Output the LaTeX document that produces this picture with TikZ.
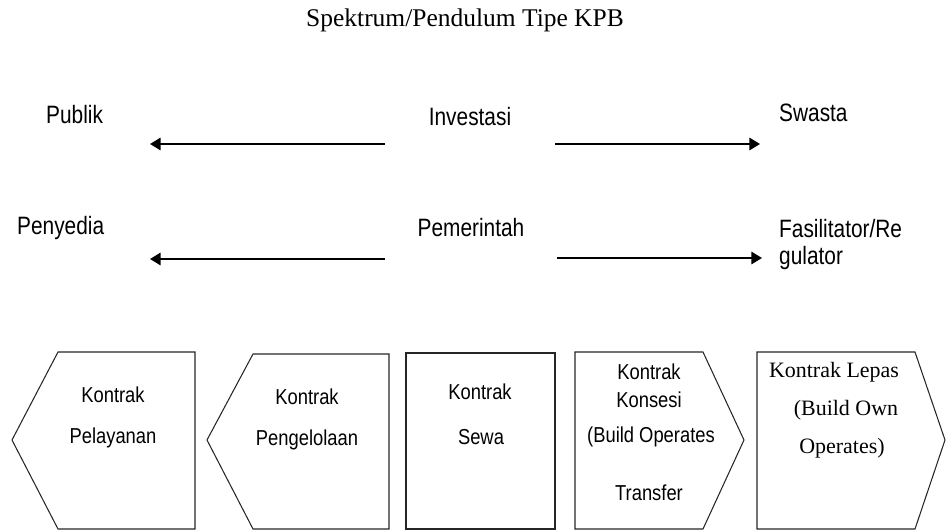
\documentclass[tikz,border=0pt]{standalone}
\usepackage{fontspec}
\setmainfont{Liberation Serif}
\newfontfamily\narrowsans[FakeStretch=0.85]{Liberation Sans}
\newfontfamily\labelsans[FakeStretch=0.83]{Liberation Sans}
\usetikzlibrary{arrows.meta}
\tikzset{
  lbl/.style={font=\labelsans\fontsize{14.3}{16.4}\selectfont},
  boxtxt/.style={font=\narrowsans\fontsize{12.3}{14}\selectfont},
  serifbox/.style={font=\fontsize{12.5}{15}\selectfont},
  pendarrow/.style={line width=1.1pt,-{Triangle[length=6pt,width=7pt]}},
  kpbbox/.style={draw=black!85,line width=0.6pt}
}
\begin{document}
\begin{tikzpicture}[x=0.02cm,y=-0.02cm]
\useasboundingbox (0,0) rectangle (948,531);
\node (title) at (465,20) [font=\fontsize{14.5}{17}\selectfont]{Spektrum/Pendulum Tipe KPB};

% baris investasi
\node (publik) at (40,115) [lbl,anchor=west]{Publik};
\node (investasi) at (470,117) [lbl]{Investasi};
\node (swasta) at (773,113) [lbl,anchor=west]{Swasta};
\coordinate (inv-l1) at (385,144);
\coordinate (inv-l2) at (150,144);
\coordinate (inv-r1) at (555,144);
\coordinate (inv-r2) at (760,144);
\draw[pendarrow] (inv-l1)--(inv-l2);
\draw[pendarrow] (inv-r1)--(inv-r2);

% baris pemerintah
\node (penyedia) at (11,228) [lbl,anchor=west]{Penyedia};
\node (pemerintah) at (471,228) [lbl]{Pemerintah};
\node (fasil) at (773,229) [lbl,anchor=west]{Fasilitator/Re};
\node (regul) at (773,258) [lbl,anchor=west]{gulator};
\coordinate (pem-l1) at (385,259);
\coordinate (pem-l2) at (150,259);
\coordinate (pem-r1) at (557,258);
\coordinate (pem-r2) at (762,258);
\draw[pendarrow] (pem-l1)--(pem-l2);
\draw[pendarrow] (pem-r1)--(pem-r2);

% kotak kontrak
\draw[kpbbox] (58,352)--(195,352)--(195,529)--(58,529)--(12,440)--cycle;
\draw[kpbbox] (253,354)--(389,354)--(389,529)--(253,529)--(207,440)--cycle;
\draw[kpbbox] (406,353) rectangle (555,529);
\draw[kpbbox] (575,352)--(703,352)--(744,440)--(703,529)--(575,529)--cycle;
\draw[kpbbox] (757,352)--(915,352)--(945,440)--(915,529)--(757,529)--cycle;

\node (k1a) at (113,395) [boxtxt]{Kontrak};
\node (k1b) at (113,438) [boxtxt]{Pelayanan};
\node (k2a) at (307,397) [boxtxt]{Kontrak};
\node (k2b) at (307,440) [boxtxt]{Pengelolaan};
\node (k3a) at (480,392) [boxtxt]{Kontrak};
\node (k3b) at (481,437) [boxtxt]{Sewa};
\node (k4a) at (649,372) [boxtxt]{Kontrak};
\node (k4b) at (649,400) [boxtxt]{Konsesi};
\node (k4c) at (651,437) [boxtxt]{(Build Operates};
\node (k4d) at (649,493) [boxtxt]{Transfer};
\node (k5a) at (834,372) [serifbox]{Kontrak Lepas};
\node (k5b) at (846,410) [serifbox]{(Build Own};
\node (k5c) at (842,448) [serifbox]{Operates)};
\end{tikzpicture}
\end{document}
